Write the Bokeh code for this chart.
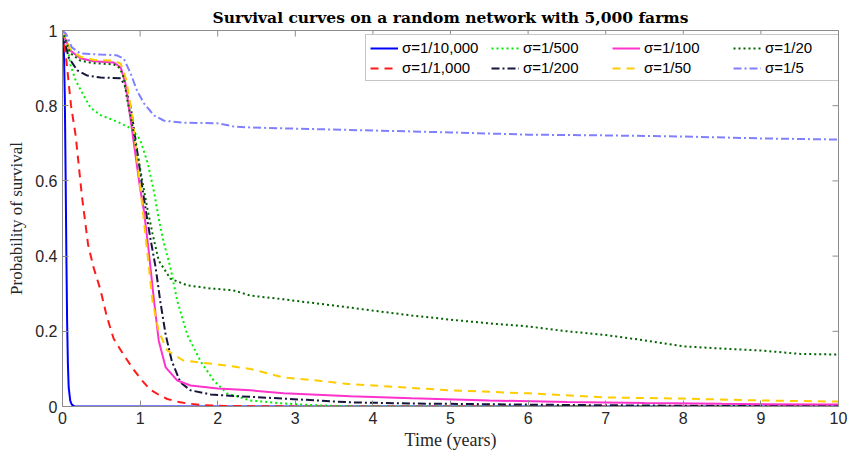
import math
from bokeh.plotting import figure
from bokeh.models import Range1d, LinearAxis, FixedTicker, Legend, LegendItem
from bokeh.embed import file_html
from bokeh.resources import INLINE

# ---- data ----
title_text = "Survival curves on a random network with 5,000 farms"
labels = ["σ=1/10,000", "σ=1/1,000", "σ=1/500", "σ=1/200",
          "σ=1/100", "σ=1/50", "σ=1/20", "σ=1/5"]

t_b = [0, 0.01, 0.02, 0.03, 0.04, 0.05, 0.06, 0.07, 0.08, 0.1, 0.12, 0.15, 0.2, 10]
p_b = [1, 0.98, 0.93, 0.82, 0.62, 0.4, 0.22, 0.11, 0.05, 0.015, 0.005, 0.001, 0, 0]

t_r = [0, 0.02, 0.05, 0.08, 0.11, 0.14, 0.17, 0.2, 0.25, 0.33, 0.4, 0.49, 0.57, 0.66, 0.78,
       0.91, 1.02, 1.13, 1.25, 1.35, 1.5, 1.61, 1.8, 2.0, 2.3, 2.7, 3.2, 10]
p_r = [1, 0.97, 0.92, 0.86, 0.8, 0.76, 0.72, 0.66, 0.56, 0.43, 0.37, 0.31, 0.24, 0.18, 0.14,
       0.10, 0.07, 0.045, 0.03, 0.02, 0.012, 0.008, 0.004, 0.002, 0.001, 0.0005, 0, 0]

t_g = [0, 0.03, 0.06, 0.1, 0.17, 0.26, 0.36, 0.49, 0.7, 0.88, 1.0, 1.1, 1.18, 1.24, 1.3,
       1.39, 1.48, 1.61, 1.78, 1.95, 2.12, 2.42, 2.85, 3.3, 3.8, 10]
p_g = [1, 0.99, 0.97, 0.91, 0.867, 0.832, 0.795, 0.775, 0.758, 0.74, 0.71, 0.646, 0.57, 0.50,
       0.44, 0.37, 0.28, 0.19, 0.12, 0.069, 0.035, 0.016, 0.008, 0.003, 0, 0]

t_n = [0, 0.03, 0.08, 0.19, 0.32, 0.49, 0.75, 0.81, 0.88, 0.92, 0.98, 1.03, 1.09, 1.13, 1.2,
       1.26, 1.33, 1.41, 1.52, 1.65, 1.91, 2.29, 2.85, 3.28, 3.71, 4.5, 5.5, 6.5, 8, 10]
p_n = [1, 0.97, 0.928, 0.894, 0.88, 0.875, 0.873, 0.85, 0.795, 0.74, 0.654, 0.58, 0.50, 0.45,
       0.37, 0.28, 0.19, 0.12, 0.064, 0.043, 0.032, 0.027, 0.021, 0.016, 0.011, 0.008, 0.006,
       0.004, 0.002, 0.001]

t_m = [0, 0.03, 0.1, 0.23, 0.4, 0.66, 0.75, 0.81, 0.88, 0.94, 1.0, 1.05, 1.11, 1.18, 1.24,
       1.33, 1.48, 1.65, 2.0, 2.42, 2.85, 3.71, 4.5, 5.5, 6.5, 7.5, 8.5, 10]
p_m = [1, 0.98, 0.947, 0.926, 0.918, 0.915, 0.902, 0.86, 0.76, 0.67, 0.58, 0.52, 0.415, 0.28,
       0.175, 0.104, 0.069, 0.056, 0.048, 0.043, 0.035, 0.027, 0.022, 0.016, 0.012, 0.009,
       0.007, 0.005]

t_y = [0, 0.03, 0.1, 0.23, 0.4, 0.66, 0.75, 0.82, 0.9, 0.96, 1.03, 1.09, 1.16, 1.24, 1.35,
       1.56, 2.0, 2.42, 2.85, 3.28, 3.67, 4.0, 5.0, 6.0, 7.0, 8.0, 9.0, 10]
p_y = [1, 0.98, 0.95, 0.93, 0.922, 0.92, 0.912, 0.87, 0.77, 0.66, 0.53, 0.415, 0.28, 0.2,
       0.149, 0.122, 0.112, 0.10, 0.077, 0.069, 0.06, 0.056, 0.043, 0.035, 0.024, 0.021,
       0.016, 0.013]

t_d = [0, 0.03, 0.1, 0.23, 0.4, 0.66, 0.74, 0.79, 0.83, 0.88, 0.95, 1.02, 1.09, 1.16, 1.24,
       1.39, 1.61, 1.91, 2.2, 2.42, 2.85, 3.28, 3.71, 4.0, 4.5, 5.0, 5.5, 6.0, 6.5, 7.0, 7.5,
       8.0, 8.5, 9.0, 9.5, 10]
p_d = [1, 0.98, 0.94, 0.92, 0.913, 0.91, 0.9, 0.875, 0.82, 0.77, 0.69, 0.61, 0.53, 0.46,
       0.388, 0.34, 0.322, 0.314, 0.309, 0.295, 0.285, 0.274, 0.263, 0.255, 0.242, 0.231,
       0.221, 0.213, 0.2, 0.19, 0.176, 0.16, 0.154, 0.149, 0.14, 0.138]

t_l = [0, 0.05, 0.12, 0.23, 0.49, 0.7, 0.79, 0.88, 0.96, 1.05, 1.18, 1.31, 1.56, 2.0, 2.2,
       2.42, 3.0, 4.0, 5.0, 6.0, 7.0, 8.0, 9.0, 10]
p_l = [1, 0.99, 0.955, 0.939, 0.936, 0.934, 0.925, 0.885, 0.84, 0.806, 0.774, 0.76, 0.755,
       0.753, 0.745, 0.742, 0.739, 0.734, 0.729, 0.723, 0.721, 0.718, 0.713, 0.71]

x_ticks = [0, 1, 2, 3, 4, 5, 6, 7, 8, 9, 10]
y_ticks = [0, 0.2, 0.4, 0.6, 0.8, 1]

series = [
    (t_b, p_b, "#0000ff", "solid"),
    (t_r, p_r, "#ff1a1a", "8 6"),
    (t_g, p_g, "#00ee00", "2 3"),
    (t_n, p_n, "#16163c", "8 3 2 3"),
    (t_m, p_m, "#ff33cc", "solid"),
    (t_y, p_y, "#ffcc00", "8 6"),
    (t_d, p_d, "#006400", "2 3"),
    (t_l, p_l, "#8080ff", "8 3 2 3"),
]

p = figure(width=852, height=458, output_backend="svg", toolbar_location=None,
           x_range=Range1d(0, 10), y_range=Range1d(0, 1),
           x_axis_location=None, y_axis_location=None,
           min_border_left=62, min_border_right=14, min_border_top=30, min_border_bottom=52)
p.background_fill_color = "white"
p.border_fill_color = "white"
p.grid.visible = False
p.outline_line_color = "#8c8c8c"
p.outline_line_width = 1

axis_col = "#8c8c8c"
lab_col = "#262626"

def mk_axis(ticks):
    a = LinearAxis(ticker=FixedTicker(ticks=ticks))
    a.axis_line_color = axis_col
    a.major_tick_line_color = axis_col
    a.major_tick_in = 6
    a.major_tick_out = 0
    a.minor_tick_line_color = None
    a.major_label_text_font = "Liberation Sans"
    a.major_label_text_font_size = "16px"
    a.major_label_text_color = lab_col
    return a

xb = mk_axis(x_ticks)
xb.axis_label = "Time (years)"
xb.axis_label_text_font = "Liberation Serif"
xb.axis_label_text_font_style = "normal"
xb.axis_label_text_font_size = "18px"
xb.axis_label_text_color = lab_col
xb.axis_label_standoff = 3
xb.major_label_standoff = 5
p.add_layout(xb, "below")

yl = mk_axis(y_ticks)
yl.axis_label = "Probability of survival"
yl.axis_label_text_font = "Liberation Serif"
yl.axis_label_text_font_style = "normal"
yl.axis_label_text_font_size = "17px"
yl.axis_label_text_color = lab_col
yl.axis_label_standoff = 6
yl.major_label_standoff = 5
yl.major_label_overrides = {0: "0", 1: "1"}
p.add_layout(yl, "left")

# inward tick marks on the top and right sides of the box
p.ray(x=x_ticks, y=[1] * len(x_ticks), length=6, length_units="screen",
      angle=-math.pi / 2, line_color=axis_col, line_width=1)
p.ray(x=[10] * len(y_ticks), y=y_ticks, length=6, length_units="screen",
      angle=math.pi, line_color=axis_col, line_width=1)

p.title.text = title_text
p.title.align = "center"
p.title.text_font = "DejaVu Serif"
p.title.text_font_style = "bold"
p.title.text_font_size = "15.5px"
p.title.text_color = "#000000"
p.title.offset = 0
p.title.standoff = 8

items = []
for (tt, pp, col, dash), lab in zip(series, labels):
    r = p.line(tt, pp, line_color=col, line_width=2, line_dash=dash)
    items.append(LegendItem(label=lab, renderers=[r]))

leg = Legend(items=items, location=(303, 325), nrows=2, orientation="vertical")
leg.label_text_font = "Liberation Sans"
leg.label_text_font_size = "15px"
leg.label_text_color = "#000000"
leg.glyph_width = 28
leg.glyph_height = 12
leg.label_height = 12
leg.label_width = 86
leg.label_standoff = 4
leg.spacing = 3
leg.padding = 4
leg.margin = 0
leg.border_line_color = "#8c8c8c"
leg.border_line_width = 1
leg.background_fill_color = "white"
leg.background_fill_alpha = 1
p.add_layout(leg, "center")

open("out.html", "w").write(file_html(p, INLINE))
